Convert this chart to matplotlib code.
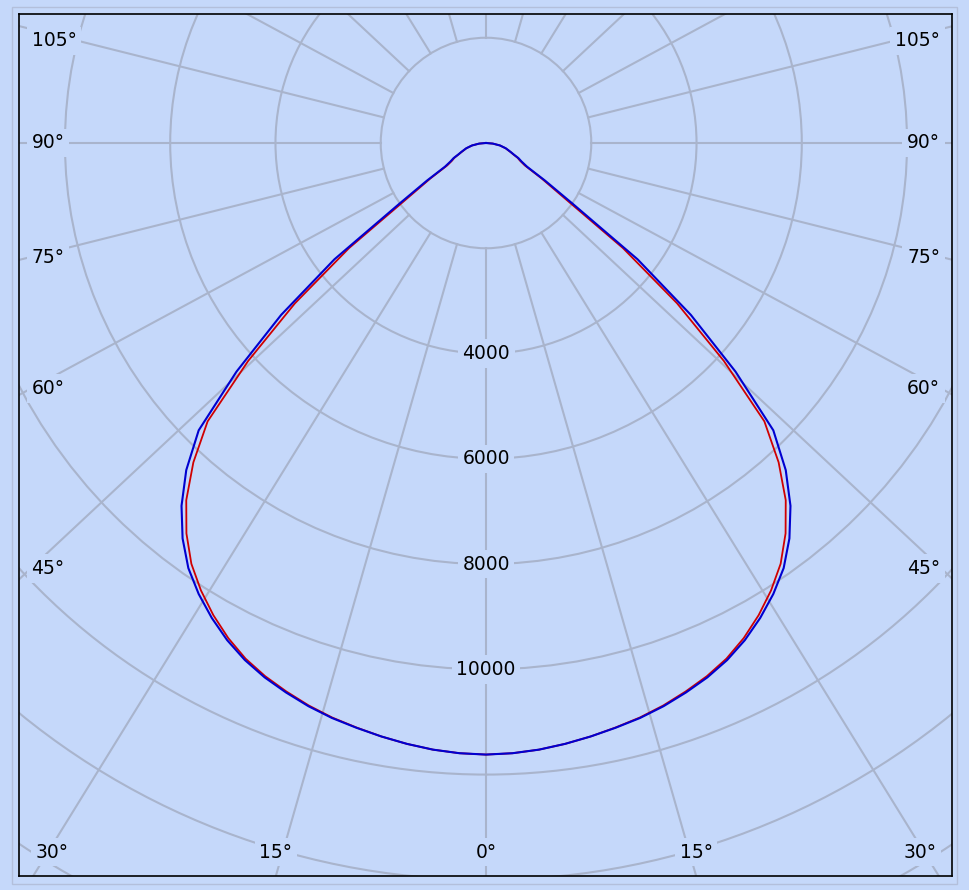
import numpy as np
import matplotlib.pyplot as plt
from matplotlib.patches import Circle, Rectangle

# gamma angle from nadir (deg) and luminous intensity (cd) of the two planes
gamma = [0, 2.5, 5, 7.5, 10, 12.5, 15, 17.5, 20, 22.5, 25, 27.5, 30, 32.5, 35, 37.5,
         40, 42.5, 45, 47.5, 50, 52.5, 55, 57.5, 60, 62.5, 65, 67.5, 70, 75, 80, 85, 90]
cd_blue = [11620, 11605, 11570, 11515, 11450, 11380, 11310, 11220, 11110, 10990, 10840,
           10650, 10420, 10160, 9860, 9470, 9000, 8430, 7720, 6430, 5080, 3630, 2000,
           1330, 900, 760, 680, 570, 500, 390, 270, 130, 0]
cd_red = [11620, 11605, 11570, 11515, 11450, 11375, 11300, 11205, 11090, 10965, 10810,
          10605, 10360, 10080, 9760, 9350, 8860, 8230, 7480, 6130, 4740, 3280, 1800,
          1250, 850, 730, 660, 560, 490, 385, 268, 130, 0]

ring_values = [2000, 4000, 6000, 8000, 10000, 12000, 14000, 16000, 18000]
ring_labels = [4000, 6000, 8000, 10000]
spoke_angles = list(range(0, 360, 15))
side_labels = [105, 90, 75, 60, 45]
bottom_labels = [30, 15]

bg = '#C5D8FA'
grid_c = '#A9B4CC'
S = 19.0          # cd per pixel
cx, cy = 486, 143  # pole position in pixels
k = 1.07           # horizontal stretch of the spokes

fig = plt.figure(figsize=(9.69, 8.90), dpi=100, facecolor=bg)
ax = fig.add_axes([19 / 969, 14 / 890, 933 / 969, 862 / 890])
ax.set_facecolor(bg)
xmin, xmax = (19 - cx) * S, (952 - cx) * S
ymin, ymax = (cy - 876) * S, (cy - 14) * S
ax.set_xlim(xmin, xmax)
ax.set_ylim(ymin, ymax)
ax.set_xticks([])
ax.set_yticks([])
for s in ax.spines.values():
    s.set_color('black')
    s.set_linewidth(1.2)

# rings
for r in ring_values:
    ax.add_patch(Circle((0, 0), r, fill=False, ec=grid_c, lw=1.5, zorder=1))


def disp(a):
    a = np.radians(a)
    return np.arctan2(k * np.sin(a), np.cos(a))


# spokes, starting at the inner ring
for a in spoke_angles:
    p = disp(a)
    ax.plot([2000 * np.sin(p), 30000 * np.sin(p)], [-2000 * np.cos(p), -30000 * np.cos(p)],
            color=grid_c, lw=1.5, zorder=1)

# intensity curves, mirrored about the nadir
g = np.array(gamma, dtype=float)
th = np.radians(np.concatenate([-g[::-1], g[1:]]))
for vals, c, lw in [(cd_red, '#D00000', 1.3), (cd_blue, '#0000D0', 1.5)]:
    v = np.array(vals, dtype=float)
    I = np.concatenate([v[::-1], v[1:]])
    ax.plot(I * np.sin(th), -I * np.cos(th), color=c, lw=lw, zorder=3,
            solid_joinstyle='round')

box = dict(boxstyle='square,pad=0.25', fc=bg, ec='none')
fs = 13.5

for v in ring_labels:
    ax.text(0, -v, str(v), ha='center', va='center', fontsize=fs, bbox=box, zorder=2)

# angle labels on the sides
X = (cx - 19) * S
for a in side_labels:
    p = disp(a)
    y = -X * np.cos(p) / np.sin(p) * 0.975
    y = min(y, ymax - 27 * S)
    ax.text(xmin + 12.5 * S, y, f'{a}°', ha='left', va='center', fontsize=fs, bbox=box, zorder=2)
    ax.text(xmax - 12 * S, y, f'{a}°', ha='right', va='center', fontsize=fs, bbox=box, zorder=2)

# angle labels at the bottom
Y = (876 - cy) * S
yb = ymin + 24 * S
for a in bottom_labels:
    p = disp(a)
    x = max(-Y * np.tan(p), xmin + 33 * S)
    ax.text(x, yb, f'{a}°', ha='center', va='center', fontsize=fs, bbox=box, zorder=2)
    ax.text(-x, yb, f'{a}°', ha='center', va='center', fontsize=fs, bbox=box, zorder=2)
ax.text(0, yb, '0°', ha='center', va='center', fontsize=fs, bbox=box, zorder=2)

# outer light border
fig.patches.append(Rectangle((12 / 969, 6 / 890), 945 / 969, 877 / 890, transform=fig.transFigure,
                             fill=False, ec='#B3BFDB', lw=1))

fig.savefig('out.png', dpi=100, facecolor=bg)
